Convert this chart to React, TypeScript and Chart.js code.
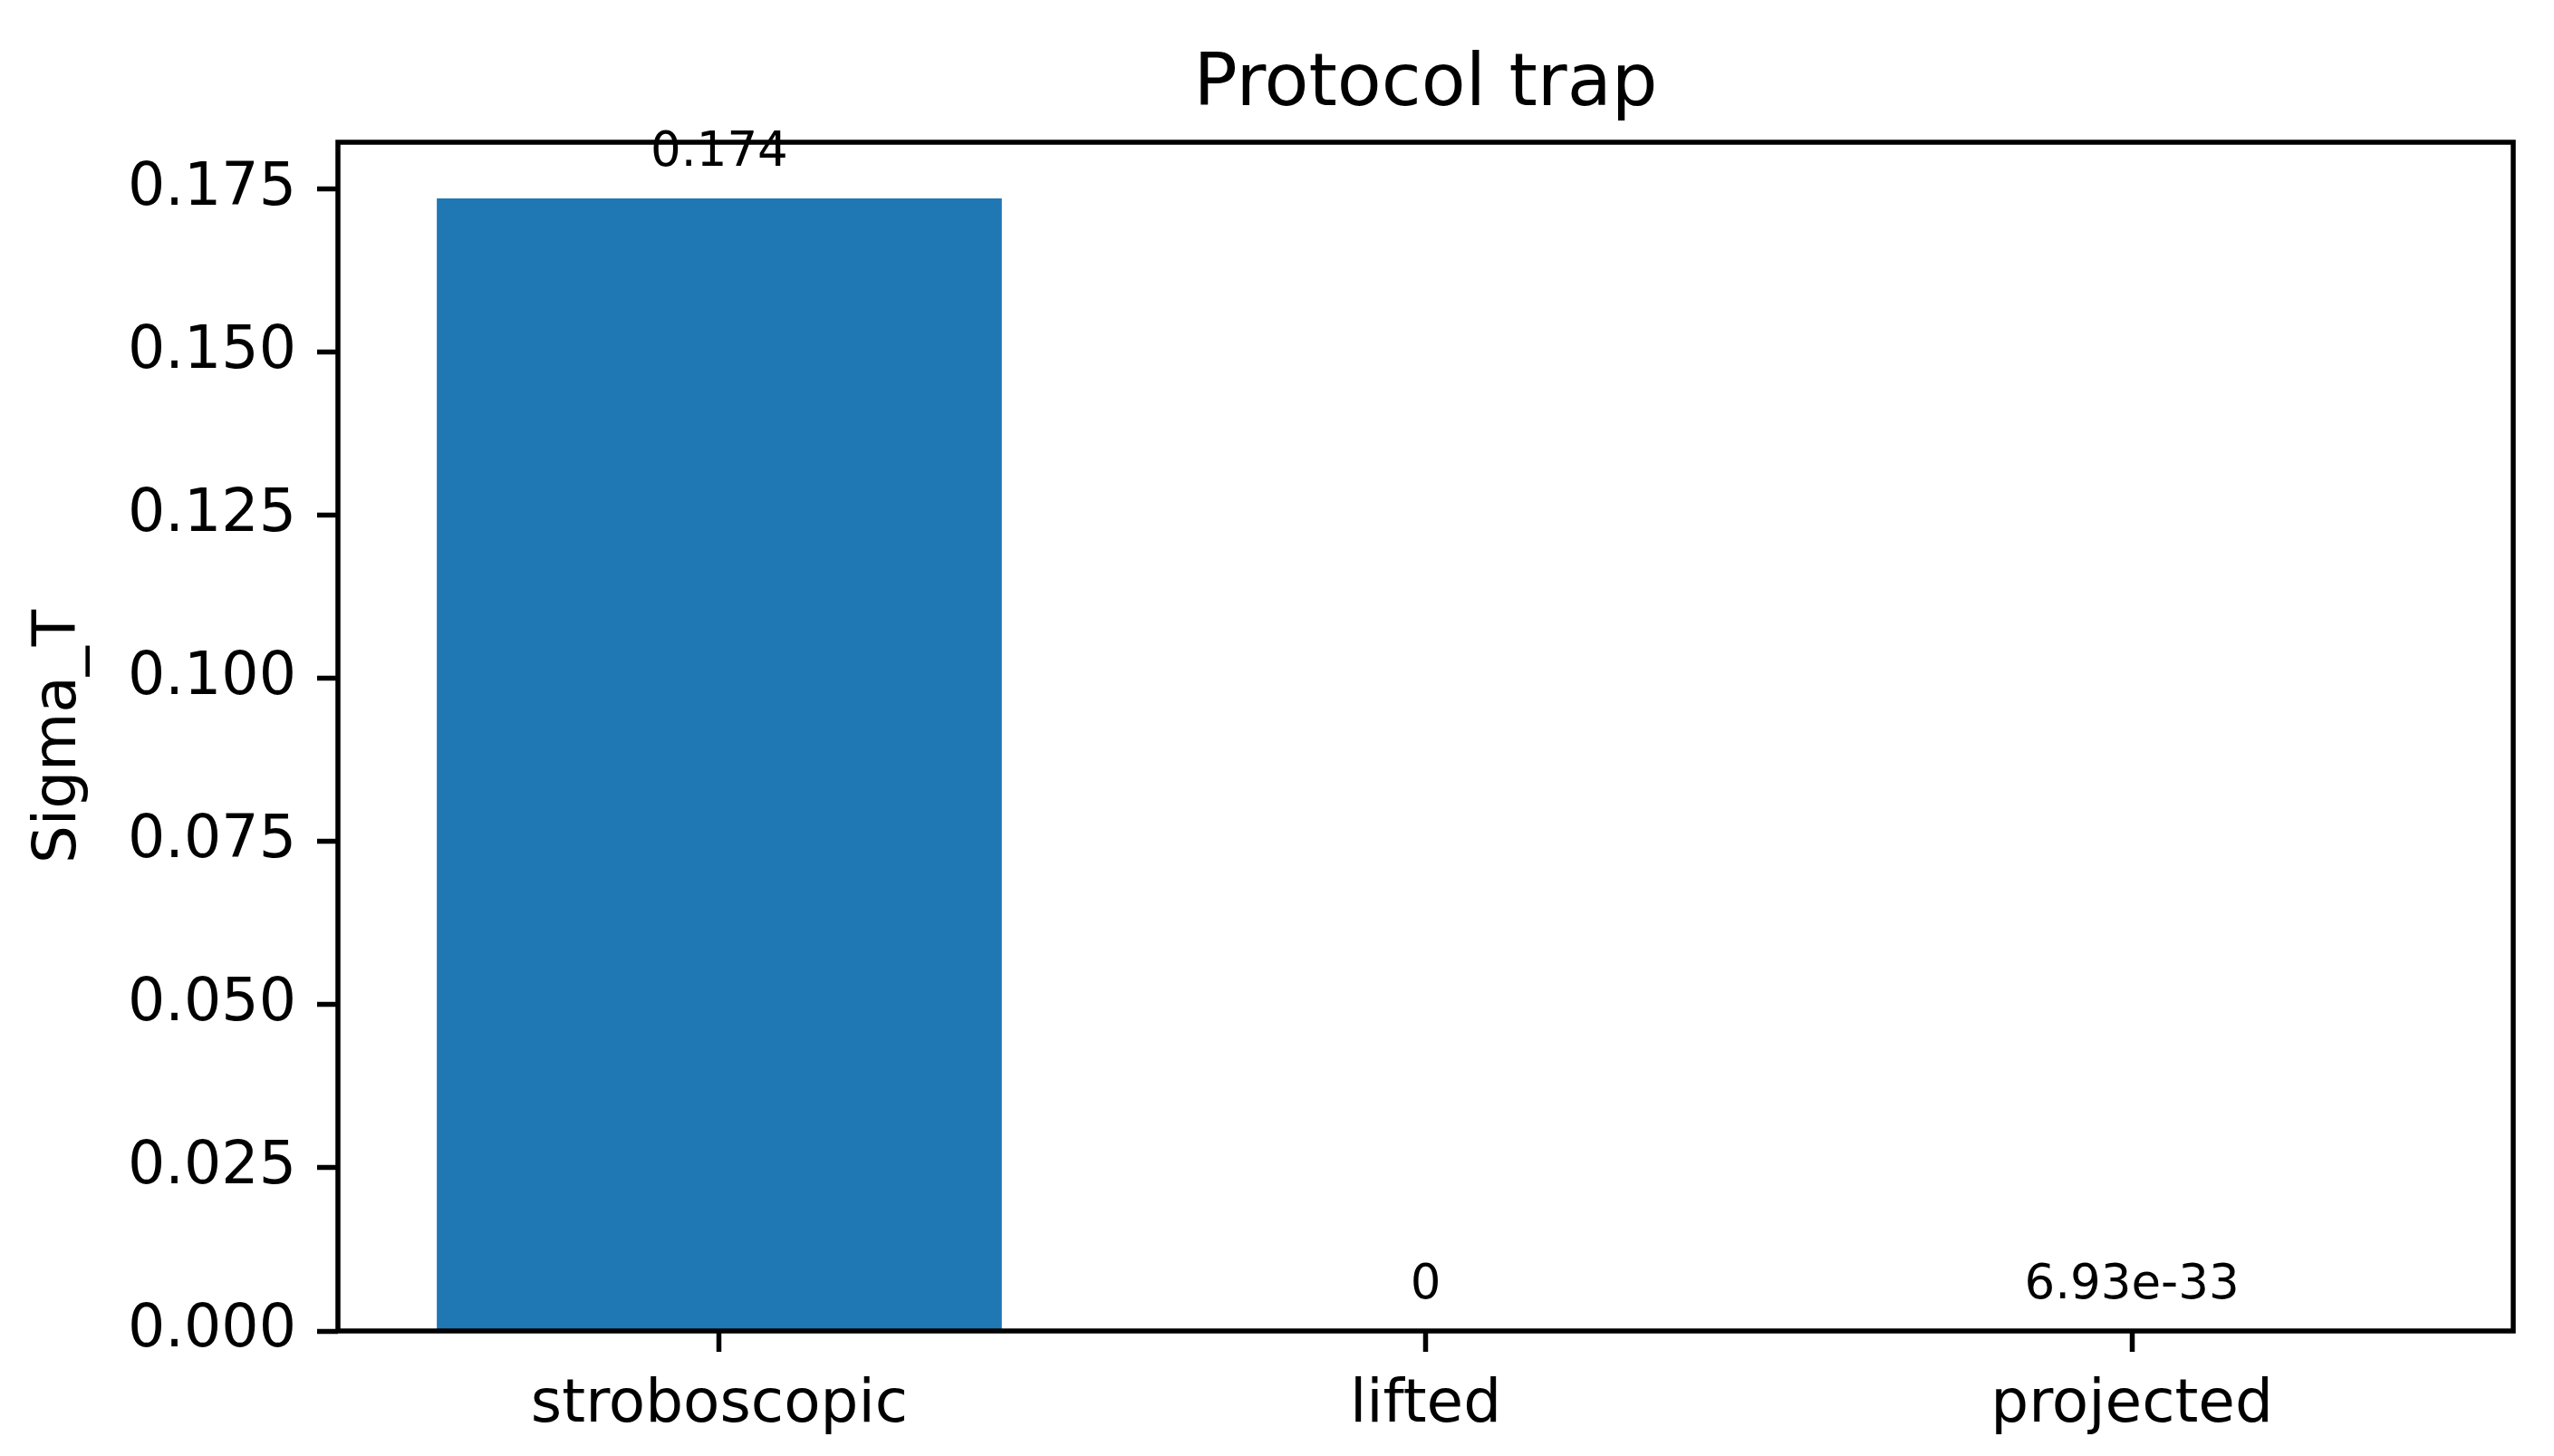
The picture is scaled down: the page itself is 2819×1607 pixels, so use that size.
import { useEffect, useRef } from 'react';
import { Chart, registerables } from 'chart.js';

Chart.register(...registerables);

const categories = ['stroboscopic', 'lifted', 'projected'];
const sigmaT = [0.1736, 0, 6.93e-33];
const yTicks = [0, 0.025, 0.05, 0.075, 0.1, 0.125, 0.15, 0.175];
const title = 'Protocol trap';
const yLabel = 'Sigma_T';

const FONT = '"DejaVu Sans", sans-serif';

function fmt(v: number) {
  if (v === 0) return '0';
  if (Math.abs(v) < 1e-4) return v.toExponential(2);
  return v.toPrecision(3);
}

const framePlugin = {
  id: 'frame',
  afterDraw(chart: any) {
    const { ctx, chartArea: a } = chart;
    ctx.save();
    // bar value labels
    const meta = chart.getDatasetMeta(0);
    ctx.fillStyle = '#000';
    ctx.font = `53px ${FONT}`;
    ctx.textAlign = 'center';
    ctx.textBaseline = 'alphabetic';
    meta.data.forEach((bar: any, i: number) => {
      ctx.fillText(fmt(sigmaT[i]), bar.x, bar.y - 36);
    });
    // spines
    ctx.strokeStyle = '#000';
    ctx.lineWidth = 5.5;
    ctx.strokeRect(a.left, a.top, a.right - a.left, a.bottom - a.top);
    // title
    ctx.font = `80px ${FONT}`;
    ctx.fillText(title, (a.left + a.right) / 2, 116);
    ctx.restore();
  },
};

export default function App() {
  const canvasRef = useRef<HTMLCanvasElement>(null);

  useEffect(() => {
    document.body.style.margin = '0';
    const canvas = canvasRef.current;
    if (!canvas) return;
    const chart = new Chart(canvas, {
      type: 'bar',
      data: {
        datasets: [
          {
            data: sigmaT.map((v, i) => ({ x: i, y: v })),
            backgroundColor: '#1f77b4',
            borderWidth: 0,
            categoryPercentage: 1,
            barPercentage: 0.8,
          },
        ],
      },
      options: {
        responsive: false,
        animation: false,
        devicePixelRatio: 1,
        layout: { padding: { left: 0, top: 157, right: 45, bottom: 0 } },
        plugins: {
          legend: { display: false },
          title: { display: false },
          tooltip: { enabled: false },
        },
        scales: {
          x: {
            type: 'linear',
            min: -0.54,
            max: 2.54,
            offset: false,
            afterBuildTicks: (s: any) => {
              s.ticks = categories.map((_, i) => ({ value: i }));
            },
            afterFit: (s: any) => {
              s.height = 138;
            },
            border: { display: false },
            grid: {
              offset: false,
              drawOnChartArea: false,
              drawTicks: true,
              tickLength: 23,
              tickWidth: 5.5,
              tickColor: '#000',
            },
            ticks: {
              color: '#000',
              padding: 20,
              maxRotation: 0,
              autoSkip: false,
              font: { family: FONT, size: 66 },
              callback: (v: any) => categories[Number(v)] ?? '',
            },
          },
          y: {
            min: 0,
            max: 0.1822,
            afterBuildTicks: (s: any) => {
              s.ticks = yTicks.map((v) => ({ value: v }));
            },
            afterFit: (s: any) => {
              s.width = 373;
            },
            border: { display: false },
            grid: {
              drawOnChartArea: false,
              drawTicks: true,
              tickLength: 23,
              tickWidth: 5.5,
              tickColor: '#000',
            },
            ticks: {
              color: '#000',
              padding: 23,
              font: { family: FONT, size: 65 },
              callback: (v: any) => Number(v).toFixed(3),
            },
            title: {
              display: true,
              text: yLabel,
              color: '#000',
              font: { family: FONT, size: 66 },
              padding: { top: 26, bottom: 0 },
            },
          },
        },
      },
      plugins: [framePlugin],
    });
    return () => chart.destroy();
  }, []);

  return (
    <div style={{ width: 2819, height: 1607, background: '#fff' }}>
      <canvas ref={canvasRef} width={2819} height={1607} />
    </div>
  );
}
